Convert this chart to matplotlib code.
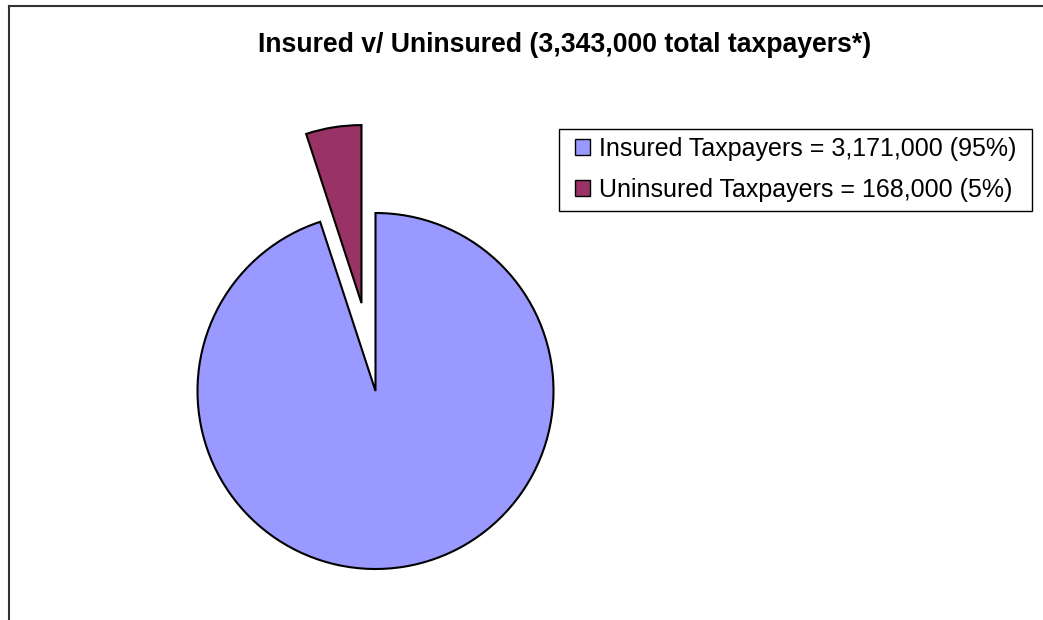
import matplotlib
matplotlib.use("Agg")
import matplotlib.pyplot as plt
from matplotlib.lines import Line2D
from matplotlib.patches import Rectangle

plt.rcParams['font.family'] = ['Liberation Sans', 'DejaVu Sans']

# data
labels = ['Insured Taxpayers = 3,171,000 (95%)',
          'Uninsured Taxpayers = 168,000 (5%)']
values = [3171000, 168000]
colors = ['#9999FF', '#993366']
explode = [0, 0.5]
title = 'Insured v/ Uninsured (3,343,000 total taxpayers*)'

W, H = 1043, 620
fig = plt.figure(figsize=(W / 100, H / 100), dpi=100)

# outer chart border (only top and left visible)
fig.add_artist(Line2D([8.5 / W, 8.5 / W], [0, 1 - 5.5 / H], color='#333333', lw=1.5,
                      transform=fig.transFigure))
fig.add_artist(Line2D([8.5 / W, 1], [1 - 5.5 / H, 1 - 5.5 / H], color='#333333', lw=1.5,
                      transform=fig.transFigure))

# pie: centre (375, 391) px, radius 178 px
cx, cy, r = 375.5, 391, 178
ax = fig.add_axes([(cx - r) / W, (H - cy - r) / H, 2 * r / W, 2 * r / H])
wedges, _ = ax.pie(values, colors=colors, explode=explode, startangle=90,
                   counterclock=False,
                   wedgeprops=dict(edgecolor='black', linewidth=1.5))
for w in wedges:
    w.set_clip_on(False)
ax.set_xlim(-1, 1)
ax.set_ylim(-1, 1)
ax.set_aspect('auto')
ax.axis('off')

fig.text(565 / W, 1 - 45 / H, title, ha='center', va='center',
         fontsize=19.2, fontweight='bold')

# legend box drawn separately so the padding matches
fig.add_artist(Rectangle((558.5 / W, 1 - 210.5 / H), 473 / W, 82 / H,
                         transform=fig.transFigure, fill=False,
                         edgecolor='black', linewidth=1.0))
leg = fig.legend(wedges, labels, loc='upper left',
                 bbox_to_anchor=(575 / W, 1 - 137 / H),
                 fontsize=18, frameon=False,
                 handlelength=0.6, handleheight=0.6, handletextpad=0.36,
                 labelspacing=0.66, borderpad=0, borderaxespad=0)
for h in leg.legend_handles:
    h.set_linewidth(1.0)

fig.savefig('out.png', dpi=100)
